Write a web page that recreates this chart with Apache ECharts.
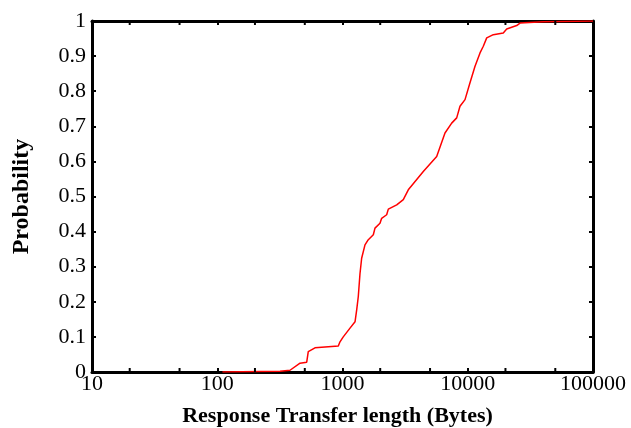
<!DOCTYPE html>
<html>
<head>
<meta charset="utf-8">
<title>Response Transfer length CDF</title>
<script src="https://cdn.jsdelivr.net/npm/echarts@6/dist/echarts.min.js"></script>
<style>
  html, body { margin: 0; padding: 0; background: #ffffff; }
  #chart { width: 631px; height: 428px; }
</style>
</head>
<body>
<div id="chart"></div>
<script>
// Empirical CDF of response transfer lengths (bytes -> cumulative probability)
const transferBytes = [
  110, 317, 381, 458, 518, 533, 603, 926, 955, 1014, 1148, 1259, 1298, 1337,
  1379, 1422, 1512, 1607, 1762, 1817, 1992, 2054, 2252, 2322, 2709, 3058,
  3352, 4417, 5650, 6580, 7444, 8160, 8670, 9510, 10420, 11430, 12530,
  13310, 14170, 16000, 19220, 20460, 24590, 26140, 40090, 100000
];
const cumulativeProb = [
  0.000, 0.002, 0.005, 0.025, 0.028, 0.058, 0.069, 0.074, 0.086, 0.100,
  0.125, 0.143, 0.177, 0.215, 0.280, 0.324, 0.362, 0.377, 0.391, 0.410,
  0.424, 0.438, 0.448, 0.464, 0.476, 0.491, 0.519, 0.571, 0.614, 0.681,
  0.709, 0.724, 0.757, 0.776, 0.824, 0.871, 0.909, 0.928, 0.952, 0.961,
  0.966, 0.977, 0.987, 0.994, 0.998, 1.000
];
// Intermediate log-axis ticks (2x and 5x of each decade)
const minorTickValues = [20, 50, 200, 500, 2000, 5000, 20000, 50000];

const xTitle = 'Response Transfer length (Bytes)';
const yTitle = 'Probability';

const serif = 'Liberation Serif';
const axisLineStyle = { color: '#000', width: 3 };
const tickStyle = { show: true, inside: true, length: 4, lineStyle: { color: '#000', width: 2 } };

const chart = echarts.init(document.getElementById('chart'), null, { renderer: 'canvas' });

chart.setOption({
  animation: false,
  backgroundColor: '#ffffff',
  grid: { left: 92, right: 38, top: 21, bottom: 56, containLabel: false, outerBoundsMode: 'none' },
  xAxis: [
    {
      type: 'log', logBase: 10, min: 10, max: 100000, position: 'bottom',
      name: xTitle, nameLocation: 'middle', nameGap: 33,
      nameTextStyle: { fontFamily: serif, fontWeight: 'bold', fontSize: 22, color: '#000', padding: [0, 10, 0, 0] },
      axisLine: { show: true, onZero: false, lineStyle: axisLineStyle },
      axisTick: tickStyle,
      minorTick: { show: false },
      splitLine: { show: false },
      axisLabel: {
        fontFamily: serif, fontSize: 22, color: '#000', margin: 1,
        showMinLabel: true, showMaxLabel: true,
        formatter: v => String(Math.round(v))
      }
    },
    {
      type: 'log', logBase: 10, min: 10, max: 100000, position: 'top',
      axisLine: { show: true, onZero: false, lineStyle: axisLineStyle },
      axisTick: tickStyle,
      splitLine: { show: false },
      axisLabel: { show: false }
    }
  ],
  yAxis: [
    {
      type: 'value', min: 0, max: 1, interval: 0.1, position: 'left',
      name: yTitle, nameLocation: 'middle', nameGap: 58,
      nameTextStyle: { fontFamily: serif, fontWeight: 'bold', fontSize: 24, color: '#000' },
      axisLine: { show: true, onZero: false, lineStyle: axisLineStyle },
      axisTick: tickStyle,
      splitLine: { show: false },
      axisLabel: { fontFamily: serif, fontSize: 22, color: '#000', margin: 6 }
    },
    {
      type: 'value', min: 0, max: 1, interval: 0.1, position: 'right',
      axisLine: { show: true, onZero: false, lineStyle: axisLineStyle },
      axisTick: tickStyle,
      splitLine: { show: false },
      axisLabel: { show: false }
    }
  ],
  series: [
    {
      type: 'line',
      xAxisIndex: 0, yAxisIndex: 0,
      data: transferBytes.map((b, i) => [b, cumulativeProb[i]]),
      showSymbol: false,
      lineStyle: { color: '#ff0000', width: 1.5 },
      z: 3
    },
    {
      // Intermediate tick marks on the bottom and top frame edges
      type: 'custom',
      xAxisIndex: 0, yAxisIndex: 0,
      silent: true,
      clip: false,
      data: minorTickValues.map(v => [v]),
      encode: { x: 0 },
      renderItem: function (params, api) {
        const v = api.value(0);
        const bottom = api.coord([v, 0]);
        const top = api.coord([v, 1]);
        const style = { stroke: '#000', lineWidth: 2 };
        return {
          type: 'group',
          children: [
            { type: 'line', shape: { x1: bottom[0], y1: bottom[1], x2: bottom[0], y2: bottom[1] - 4 }, style: style },
            { type: 'line', shape: { x1: top[0], y1: top[1], x2: top[0], y2: top[1] + 4 }, style: style }
          ]
        };
      },
      z: 4
    }
  ]
});
</script>
</body>
</html>
